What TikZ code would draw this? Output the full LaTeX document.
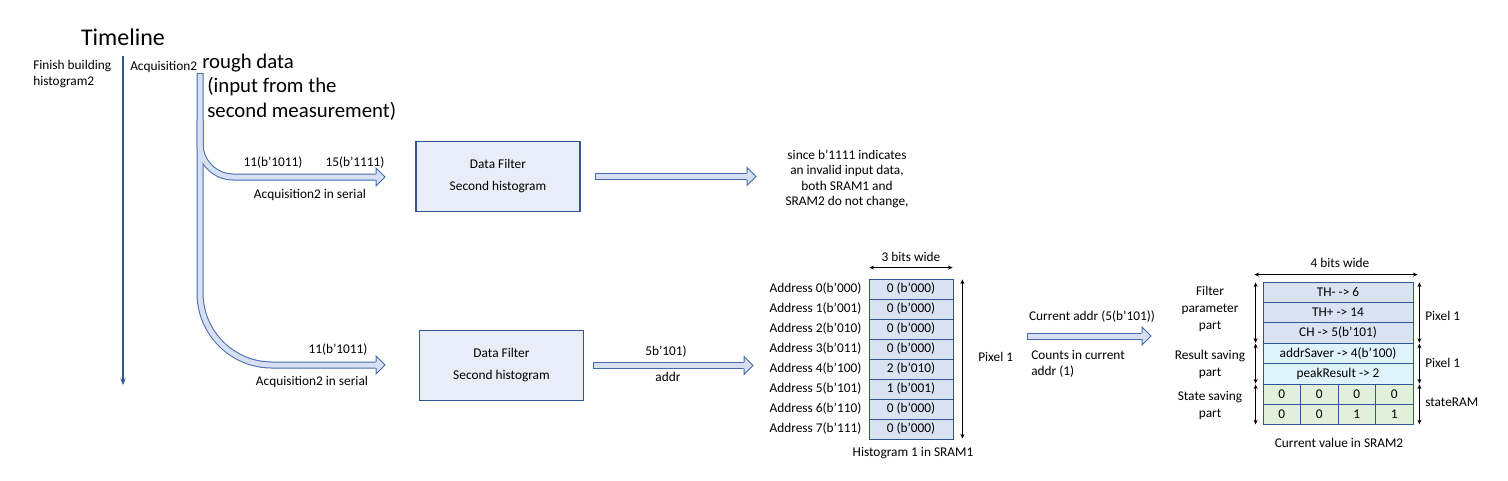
\documentclass[tikz,border=0pt]{standalone}
\usepackage{fontspec}
\setmainfont{Carlito}
\usetikzlibrary{arrows.meta, positioning}
\definecolor{darkblue}{RGB}{47, 85, 151}
\definecolor{arrowline}{RGB}{68, 105, 175}
\definecolor{arrowfill}{RGB}{214, 224, 242}
\definecolor{boxfill}{RGB}{233, 237, 247}
\definecolor{cellblue}{RGB}{218, 227, 243}
\definecolor{cellcyan}{RGB}{222, 243, 251}
\definecolor{cellgreen}{RGB}{226, 239, 218}

\tikzset{
  fathead/.pic={
    \fill[arrowfill] (-0.6,-2.75) -- (0,-2.75) -- (0,-9) -- (9,0) -- (0,9) -- (0,2.75) -- (-0.6,2.75) -- cycle;
    \draw[arrowline, line width=0.75pt, line join=miter] (0,-3.1) -- (0,-9) -- (9,0) -- (0,9) -- (0,3.1);
  }
}

\begin{document}
\begin{tikzpicture}[
    x=0.75pt, y=-0.75pt,
    txt/.style={font=\fontsize{10}{12}\selectfont, inner sep=0pt},
    bigtxt/.style={font=\fontsize{15.6}{18.4}\selectfont, inner sep=0pt},
    filter/.style={rectangle, draw=darkblue, fill=boxfill, line width=0.8pt,
                   minimum width=123pt, minimum height=53pt, align=center,
                   font=\fontsize{10}{16.5}\selectfont, inner sep=0pt},
    cell/.style={rectangle, draw=darkblue, line width=0.6pt, minimum height=15pt,
                 inner sep=0pt, font=\fontsize{10}{12}\selectfont},
    fatout/.style={draw=arrowline, line width=5.25pt},
    fatin/.style={draw=arrowfill, line width=3.75pt},
    dim/.style={<->, >={Stealth[length=3.5pt, width=3pt]}, line width=0.5pt, shorten <=0.6pt, shorten >=0.6pt}
  ]
  \useasboundingbox (0,0) rectangle (1508,480);

  % timeline
  \node[font=\fontsize{18}{22}\selectfont, inner sep=0pt] (title) at (123,37) {Timeline};
  \coordinate (tltop) at (123,56);
  \coordinate (tlbot) at (123,385);
  \draw[darkblue, line width=1.1pt, -{Stealth[length=5pt, width=4pt]}] (tltop) -- (tlbot);
  \node[txt, align=left, anchor=west] (finish) at (33,74.5) {Finish building\\histogram2};
  \node[txt, anchor=west] (acq) at (130,67) {Acquisition2};
  \node[bigtxt, align=left, anchor=west] (rough) at (207,87) {\hspace*{-3.75pt}rough data\\(input from the\\second measurement)};

  % serial input arrows
  \coordinate (bartop) at (200,73);
  \coordinate (split) at (200,120);
  \coordinate (h1) at (376,177);
  \coordinate (h2) at (376,365);
  \draw[fatout, rounded corners=54pt] (bartop) |- (h2);
  \draw[fatout, rounded corners=25pt] (split) |- (h1);
  \draw[fatin, rounded corners=54pt, shorten <=0.75pt] (bartop) |- (h2);
  \draw[fatin, rounded corners=25pt] (split) |- (h1);
  \pic at (h1) {fathead};
  \pic at (h2) {fathead};
  \node[txt] (in11a) at (273,163) {11(b’1011)};
  \node[txt] (in15) at (355,163) {15(b’1111)};
  \node[txt] (ser1) at (310,195) {Acquisition2 in serial};
  \node[txt] (in11b) at (338,350) {11(b’1011)};
  \node[txt] (ser2) at (312,382) {Acquisition2 in serial};

  % filters
  \node[filter] (filt1) at (498,176.5) {Data Filter\\Second histogram};
  \node[filter] (filt2) at (501.5,365.5) {Data Filter\\Second histogram};

  \node[txt, align=center, font=\fontsize{10}{11.6}\selectfont] (note) at (847,179)
    {since b’1111 indicates\\an invalid input data,\\both SRAM1 and\\SRAM2 do not change,};
  \coordinate (h3) at (747,176.5);
  \draw[fatout] ([xshift=10.5pt]filt1.east) -- (h3);
  \draw[fatin] ([xshift=11.25pt]filt1.east) -- (h3);
  \pic at (h3) {fathead};

  \coordinate (h4) at (744,365.5);
  \draw[fatout] ([xshift=6.75pt]filt2.east) -- (h4);
  \draw[fatin] ([xshift=7.5pt]filt2.east) -- (h4);
  \pic at (h4) {fathead};
  \node[txt] (addrval) at (666,352) {5b’101)};
  \node[txt] (addrlbl) at (668,377) {addr};

  % SRAM1
  \foreach \adr/\val/\bits [count=\i from 0] in {000/0/000, 001/0/000, 010/0/000, 011/0/000,
                                                  100/2/010, 101/1/001, 110/0/000, 111/0/000} {
    \node[cell, fill=cellblue, minimum width=63pt] (m\i) at (911,289+20*\i) {\val{} (b’\bits)};
    \node[txt, anchor=east] (adr\i) at ([xshift=-5.25pt]m\i.west) {Address \i(b’\adr)};
  }
  \draw[dim] ([yshift=8.25pt]m0.north west) -- ([yshift=8.25pt]m0.north east);
  \node[txt] (width1) at (911,257) {3 bits wide};
  \draw[dim] ([xshift=6.75pt]m0.north east) -- ([xshift=6.75pt]m7.south east);
  \node[txt, anchor=west] (pix1) at (978,357) {Pixel 1};
  \node[txt] (hist1) at (913,453) {Histogram 1 in SRAM1};

  % current address
  \coordinate (a5) at (1027,336);
  \coordinate (h5) at (1142,336);
  \draw[fatout] (a5) -- (h5);
  \draw[fatin] ([xshift=0.75pt]a5) -- (h5);
  \pic at (h5) {fathead};
  \node[txt] (curaddr) at (1092,317) {Current addr (5(b’101))};
  \node[txt, align=left, anchor=west] (counts) at (1031,364) {Counts in current\\addr (1)};

  % SRAM2
  \node[cell, fill=cellblue, minimum width=112.5pt, minimum height=15.3pt] (r1) at (1338,292.2) {TH- -> 6};
  \node[cell, fill=cellblue, minimum width=112.5pt, minimum height=15.3pt] (r2) at (1338,312.6) {TH+ -> 14};
  \node[cell, fill=cellblue, minimum width=112.5pt, minimum height=15.3pt] (r3) at (1338,333) {CH -> 5(b’101)};
  \node[cell, fill=cellcyan, minimum width=112.5pt, minimum height=15.3pt] (r4) at (1338,353.4) {addrSaver -> 4(b’100)};
  \node[cell, fill=cellcyan, minimum width=112.5pt, minimum height=15.3pt] (r5) at (1338,373.8) {peakResult -> 2};
  \foreach \p/\q [count=\j from 0] in {0/0, 0/0, 0/1, 0/1} {
    \node[cell, fill=cellgreen, minimum width=28.125pt, minimum height=15.3pt] (s1\j) at (1281.75+37.5*\j,394.2) {\p};
    \node[cell, fill=cellgreen, minimum width=28.125pt, minimum height=15.3pt] (s2\j) at (1281.75+37.5*\j,414.6) {\q};
  }
  \draw[dim] ([xshift=-6.75pt, yshift=5.25pt]r1.north west) -- ([xshift=3.75pt, yshift=5.25pt]r1.north east);
  \node[txt] (width2) at (1340,263) {4 bits wide};
  \draw[dim] ([xshift=-5.25pt]r1.north west) -- ([xshift=-5.25pt]r3.south west);
  \draw[dim] ([xshift=-5.25pt]r4.north west) -- ([xshift=-5.25pt]r5.south west);
  \draw[dim] ([xshift=-5.25pt]s10.north west) -- ([xshift=-5.25pt]s20.south west);
  \draw[dim] ([xshift=4.5pt]r1.north east) -- ([xshift=4.5pt]r3.south east);
  \draw[dim] ([xshift=4.5pt]r4.north east) -- ([xshift=4.5pt]r5.south east);
  \draw[dim] ([xshift=4.5pt]s13.north east) -- ([xshift=4.5pt]s23.south east);
  \node[txt, align=center, font=\fontsize{10}{12.75}\selectfont] (fpart) at (1210,309) {Filter\\parameter\\part};
  \node[txt, align=center, font=\fontsize{10}{12.75}\selectfont] (rpart) at (1210,364.5) {Result saving\\part};
  \node[txt, align=center, font=\fontsize{10}{12.75}\selectfont] (spart) at (1210,405.5) {State saving\\part};
  \node[txt, anchor=west] (pix2) at (1425,316) {Pixel 1};
  \node[txt, anchor=west] (pix3) at (1425,363) {Pixel 1};
  \node[txt, anchor=west] (state) at (1425,402) {stateRAM};
  \node[txt] (cur2) at (1339,443) {Current value in SRAM2};
\end{tikzpicture}
\end{document}
